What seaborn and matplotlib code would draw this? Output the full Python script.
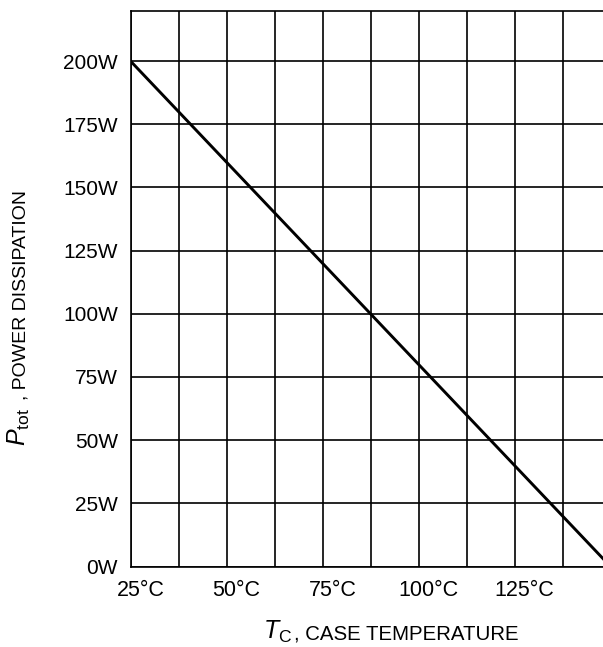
import matplotlib
matplotlib.use("Agg")
import matplotlib.pyplot as plt
import matplotlib.transforms as mtransforms
import seaborn as sns
import pandas as pd
import numpy as np

# Data
case_temp_c = [25, 150]
power_w = [200, 0]
x_tick_values = [25, 50, 75, 100, 125]
x_tick_labels = ["25°C", "50°C", "75°C", "100°C", "125°C"]
y_tick_values = [0, 25, 50, 75, 100, 125, 150, 175, 200]
y_tick_labels = ["0W", "25W", "50W", "75W", "100W", "125W", "150W", "175W", "200W"]

sns.set_theme(style="white")
plt.rcParams["font.family"] = ["Liberation Sans", "DejaVu Sans"]
plt.rcParams["mathtext.fontset"] = "custom"
plt.rcParams["mathtext.rm"] = "Liberation Sans"
plt.rcParams["mathtext.it"] = "Liberation Sans:italic"

W, H = 603, 647
fig = plt.figure(figsize=(W / 100, H / 100), dpi=100)
left, right, bottom, top = 130.5, 610.5, 80.5, 636.5
ax = fig.add_axes([left / W, bottom / H, (right - left) / W, (top - bottom) / H])

df = pd.DataFrame({"temp": case_temp_c, "power": power_w})
sns.lineplot(data=df, x="temp", y="power", ax=ax, color="black", linewidth=2.1, clip_on=True)

ax.set_xlim(25, 150)
ax.set_ylim(0, 220)

# grid lines
for xv in np.arange(25, 150.01, 12.5):
    ax.axvline(xv, color="black", linewidth=1.2, zorder=1)
for yv in y_tick_values:
    ax.axhline(yv, color="black", linewidth=1.2, zorder=1)

ax.set_xticks(x_tick_values)
ax.set_xticklabels(x_tick_labels, fontsize=15.5)
ax.set_yticks(y_tick_values)
ax.set_yticklabels(y_tick_labels, fontsize=15)
ax.tick_params(axis="both", length=0, colors="black")
ax.tick_params(axis="x", pad=10)
ax.tick_params(axis="y", pad=9)

offset = mtransforms.ScaledTranslation(10 / 100, 0, fig.dpi_scale_trans)
for lbl in ax.get_xticklabels():
    lbl.set_transform(lbl.get_transform() + offset)

for side in ["left", "bottom", "top", "right"]:
    ax.spines[side].set_color("black")
    ax.spines[side].set_linewidth(1.2)

ax.set_xlabel("")
ax.set_ylabel("")

# x label
fig.text(263 / W, 8 / H, r"$T_\mathrm{C}$", fontsize=18, ha="left", va="baseline", color="black")
fig.text(294 / W, 8 / H, ", CASE TEMPERATURE", fontsize=14.7, ha="left", va="baseline", color="black")

# y label
fig.text(26 / W, (H - 446) / H, r"$P_\mathrm{tot}$", fontsize=18, rotation=90,
         rotation_mode="anchor", ha="left", va="baseline", color="black")
fig.text(26 / W, (H - 400) / H, ", POWER DISSIPATION", fontsize=14, rotation=90,
         rotation_mode="anchor", ha="left", va="baseline", color="black")

fig.savefig("out.png", dpi=100)
